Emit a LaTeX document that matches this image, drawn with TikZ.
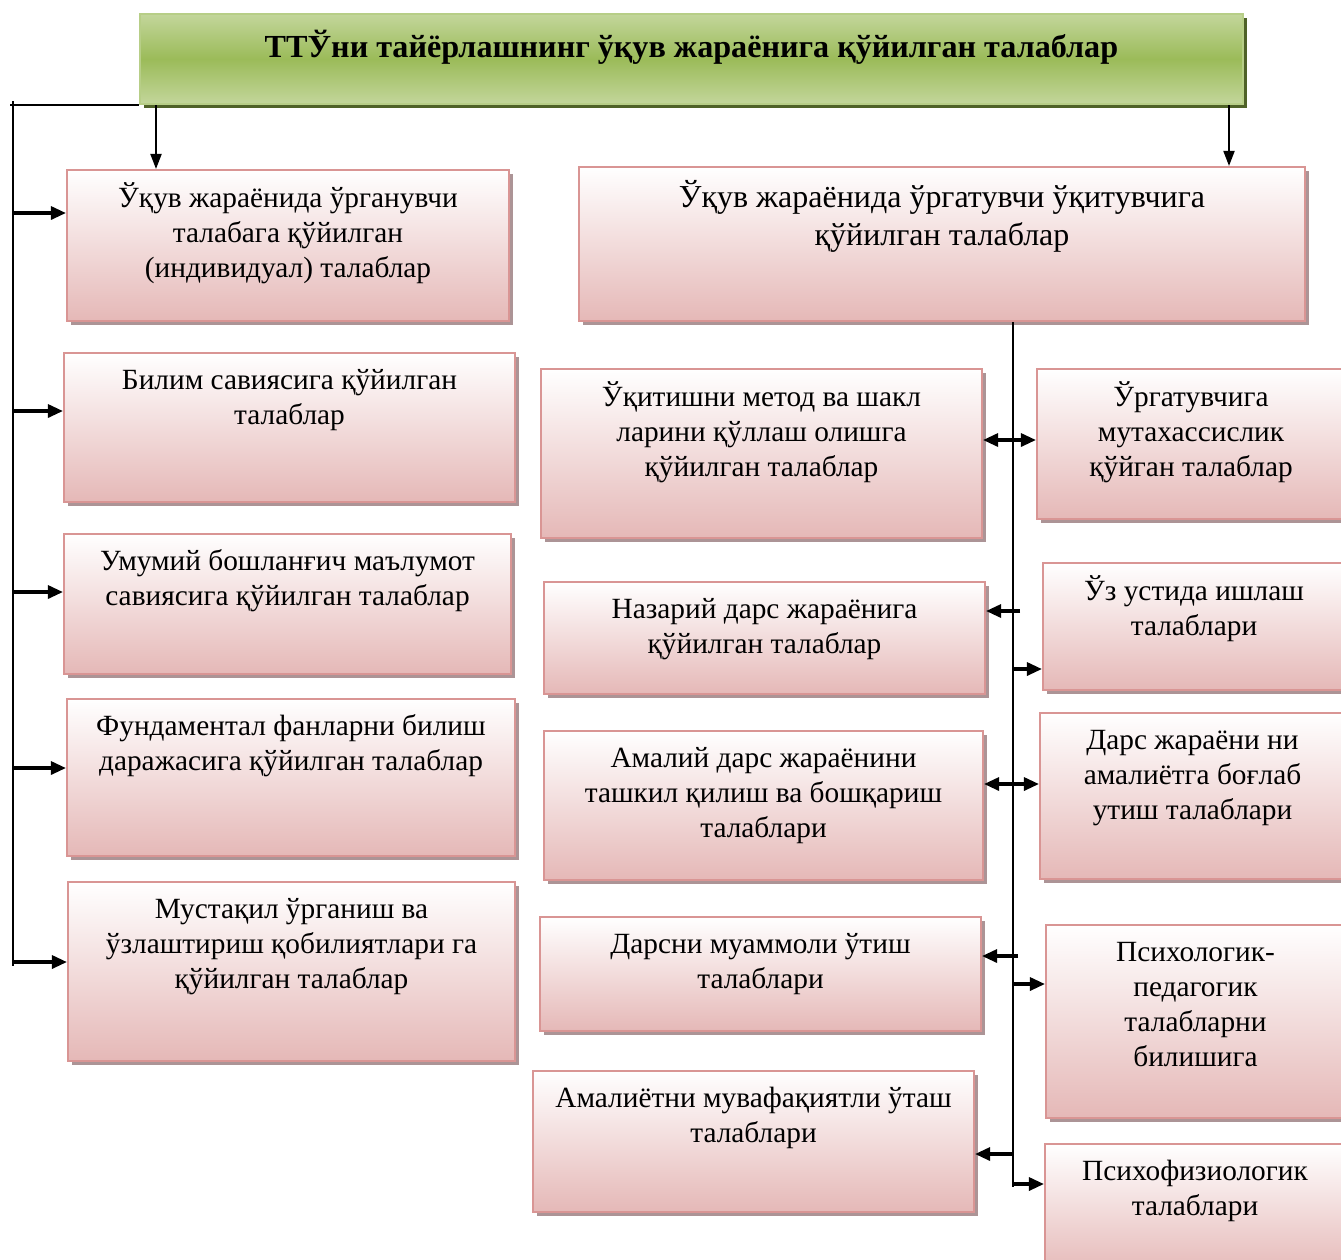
\documentclass[tikz,border=0pt]{standalone}
\usepackage{fontspec}
\setmainfont{Liberation Serif}
\usetikzlibrary{arrows.meta,shadows}

\newlength\px
\setlength\px{0.02cm}
\definecolor{pinkline}{RGB}{217,149,148}
\definecolor{pinkfill}{RGB}{229,184,183}
\definecolor{pinkshadow}{RGB}{172,148,150}
\definecolor{greenlight}{RGB}{195,214,155}
\definecolor{greendark}{RGB}{155,187,89}
\definecolor{greenshadow}{RGB}{79,98,40}
\newcommand{\boxtext}[4][7pt]{\parbox[c][#3\px][t]{#2\px}{\centering\vspace*{#1}\strut#4}}

\tikzset{
  req/.style={draw=pinkline, line width=1.2pt, top color=white, bottom color=pinkfill,
    inner sep=0pt, font=\fontsize{16.7}{19.9}\selectfont,
    drop shadow={shadow xshift=0.08cm, shadow yshift=-0.08cm, fill=pinkshadow, opacity=1}},
  head/.style={draw=greenlight!70!greendark, line width=1.5pt, top color=greenlight,
    bottom color=greenlight, middle color=greendark, inner sep=0pt,
    font=\fontsize{18.3}{22}\bfseries,
    drop shadow={shadow xshift=0.08cm, shadow yshift=-0.08cm, fill=greenshadow, opacity=1}},
  bus/.style={line width=1.1pt},
  arr/.style={line width=1.8pt, -{Triangle[length=0.3cm,width=0.26cm]}},
  darr/.style={line width=1.8pt, {Triangle[length=0.3cm,width=0.26cm]}-{Triangle[length=0.3cm,width=0.26cm]}},
  down/.style={line width=1.1pt, -{Triangle[length=0.3cm,width=0.22cm]}}
}

\begin{document}
\begin{tikzpicture}[x=0.02cm,y=-0.02cm]
\useasboundingbox (0,0) rectangle (1341,1259);

% title
\node[head] (T) at (691.5,59) {\boxtext[9pt]{1103}{90}{ТТЎни тайёрлашнинг ўқув жараёнига қўйилган талаблар}};

% left column
\node[req] (L1) at (288,245.5) {\boxtext{442}{151}{Ўқув жараёнида ўрганувчи\\ талабага қўйилган\\ (индивидуал) талаблар}};
\node[req] (L2) at (289.5,427.5) {\boxtext{451}{149}{Билим савиясига қўйилган\\ талаблар}};
\node[req] (L3) at (287.5,604) {\boxtext{447}{140}{Умумий бошланғич маълумот\\ савиясига қўйилган талаблар}};
\node[req] (L4) at (291,777.5) {\boxtext{448}{157}{Фундаментал фанларни билиш\\ даражасига қўйилган талаблар}};
\node[req] (L5) at (291.5,971.5) {\boxtext{447}{179}{Мустақил ўрганиш ва\\ ўзлаштириш қобилиятлари га\\ қўйилган талаблар}};

% teacher box
\node[req,font=\fontsize{18.2}{21.6}\selectfont] (R0) at (942,244) {\boxtext[7.5pt]{726}{154}{Ўқув жараёнида ўргатувчи ўқитувчига\\ қўйилган талаблар}};

% middle column
\node[req] (M1) at (761.5,453.5) {\boxtext{441}{169}{Ўқитишни метод ва шакл\\ ларини қўллаш олишга\\ қўйилган талаблар}};
\node[req] (M2) at (764.5,638) {\boxtext{441}{112}{Назарий дарс жараёнига\\ қўйилган талаблар}};
\node[req] (M3) at (763.5,805.5) {\boxtext{439}{149}{Амалий дарс жараёнини\\ ташкил қилиш ва бошқариш\\ талаблари}};
\node[req] (M4) at (760.5,974) {\boxtext{441}{114}{Дарсни муаммоли ўтиш\\ талаблари}};
\node[req] (M5) at (753.5,1141.5) {\boxtext{441}{141}{Амалиётни мувафақиятли ўташ\\ талаблари}};

% right column
\node[req] (R1) at (1191,444) {\boxtext{308}{150}{Ўргатувчига\\ мутахассислик\\ қўйган талаблар}};
\node[req] (R2) at (1194,626.5) {\boxtext{302}{127}{Ўз устида ишлаш\\ талаблари}};
\node[req] (R3) at (1192.5,796) {\boxtext{305}{166}{Дарс жараёни ни\\ амалиётга боғлаб\\ утиш талаблари}};
\node[req] (R4) at (1195.5,1021.5) {\boxtext{299}{193}{Психологик-\\ педагогик\\ талабларни\\ билишига}};
\node[req] (R5) at (1195,1209.5) {\boxtext{300}{131}{Психофизиологик\\ талаблари}};

% top arrows
\draw[down] (156,0 |- T.south) -- (156,0 |- L1.north);
\draw[down] (1229,0 |- T.south) -- (1229,0 |- R0.north);

% left bus
\draw[bus] (T.south west) -- (10,0 |- T.south west);
\draw[bus] (13,101) -- (13,966);
\draw[arr] (13,213) -- (L1.west |- 0,213);
\draw[arr] (13,411) -- (L2.west |- 0,411);
\draw[arr] (13,592) -- (L3.west |- 0,592);
\draw[arr] (13,768) -- (L4.west |- 0,768);
\draw[arr] (13,962) -- (L5.west |- 0,962);

% middle bus
\draw[bus] (1013,0 |- R0.south) -- (1013,1187);
\draw[darr] (M1.east |- 0,440) -- (R1.west |- 0,440);
\draw[arr] (1020,611) -- (M2.east |- 0,611);
\draw[arr] (1013,669) -- (R2.west |- 0,669);
\draw[darr] (M3.east |- 0,784) -- (R3.west |- 0,784);
\draw[arr] (1018,956) -- (M4.east |- 0,956);
\draw[arr] (1013,984) -- (R4.west |- 0,984);
\draw[arr] (1013,1154) -- (M5.east |- 0,1154);
\draw[arr] (1013,1184) -- (R5.west |- 0,1184);
\end{tikzpicture}
\end{document}
